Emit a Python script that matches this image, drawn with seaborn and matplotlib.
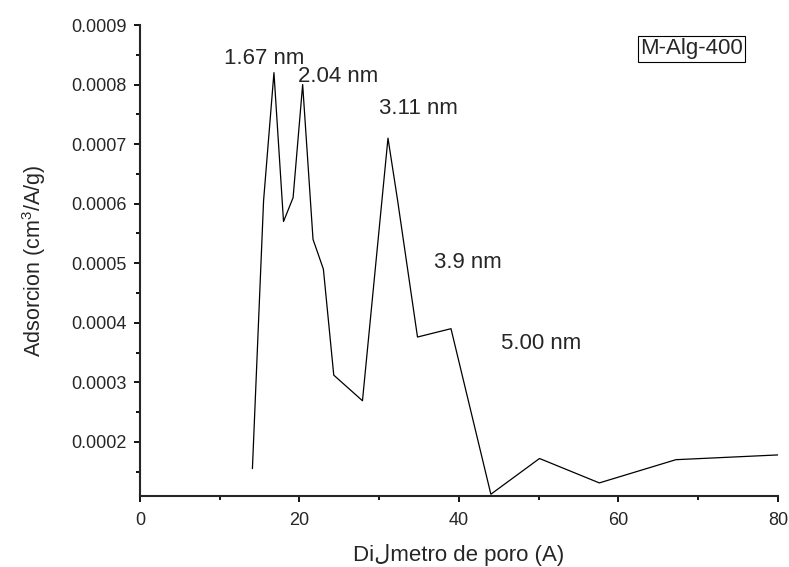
import numpy as np
import pandas as pd
import matplotlib
matplotlib.use('Agg')
import matplotlib.pyplot as plt
from matplotlib.ticker import MultipleLocator, FormatStrFormatter
import seaborn as sns

# pore size distribution, M-Alg-400
diametro = [14.1, 15.5, 16.8, 18.0, 19.2, 20.4, 21.7, 23.0, 24.3, 27.9,
            31.1, 32.3, 34.8, 39.0, 44.0, 50.1, 57.6, 67.2, 80.0]
adsorcion = [0.000155, 0.000605, 0.00082, 0.00057, 0.00061, 0.0008, 0.00054, 0.00049,
             0.000312, 0.000269, 0.00071, 0.000606, 0.000376, 0.00039, 0.000112,
             0.000172, 0.000131, 0.00017, 0.000178]

picos = ['1.67 nm', '2.04 nm', '3.11 nm', '3.9 nm', '5.00 nm']
picos_x = [15.6, 24.9, 34.9, 41.1, 50.3]
picos_y = [0.000844, 0.000813, 0.00076, 0.000501, 0.000365]

df = pd.DataFrame({'d': diametro, 'a': adsorcion})

sns.set_style('ticks')
plt.rcParams['font.family'] = ['Liberation Sans', 'DejaVu Sans']
plt.rcParams['mathtext.fontset'] = 'custom'
plt.rcParams['mathtext.rm'] = 'Liberation Sans'
plt.rcParams['mathtext.it'] = 'Liberation Sans'

fig = plt.figure(figsize=(7.89, 5.67), dpi=100)
ax = fig.add_axes([0.1774, 0.1252, 0.8086, 0.8307])

sns.lineplot(data=df, x='d', y='a', ax=ax, color='black', linewidth=0.9,
             estimator=None, sort=False)

ax.set_xlim(0, 80)
ax.set_ylim(0.000109, 0.0009)
ax.xaxis.set_major_locator(MultipleLocator(20))
ax.xaxis.set_minor_locator(MultipleLocator(10))
ax.yaxis.set_major_locator(MultipleLocator(0.0001))
ax.yaxis.set_minor_locator(MultipleLocator(0.00005))
ax.yaxis.set_major_formatter(FormatStrFormatter('%.4f'))
ax.tick_params(which='major', length=4.5, width=1.3, labelsize=13, color='black')
ax.tick_params(which='minor', length=3, width=1.3, color='black')
ax.tick_params(axis='x', which='major', pad=7)
ax.tick_params(axis='y', which='major', pad=5)
for s in ['top', 'right']:
    ax.spines[s].set_visible(False)
for s in ['left', 'bottom']:
    ax.spines[s].set_linewidth(1.5)

ax.set_xlabel('Di\u0644metro de poro (A)', fontsize=16, labelpad=11)
ax.set_ylabel('Adsorcion (cm$^3$/A/g)', fontsize=15.5, labelpad=17)

for t, x, y in zip(picos, picos_x, picos_y):
    ax.text(x, y, t, fontsize=16, ha='center', va='center')

ax.text(69.2, 0.00086, 'M-Alg-400', fontsize=16, ha='center', va='center',
        bbox=dict(boxstyle='square,pad=0.1', fc='white', ec='black', lw=0.8))

fig.savefig('out.png', dpi=100)
